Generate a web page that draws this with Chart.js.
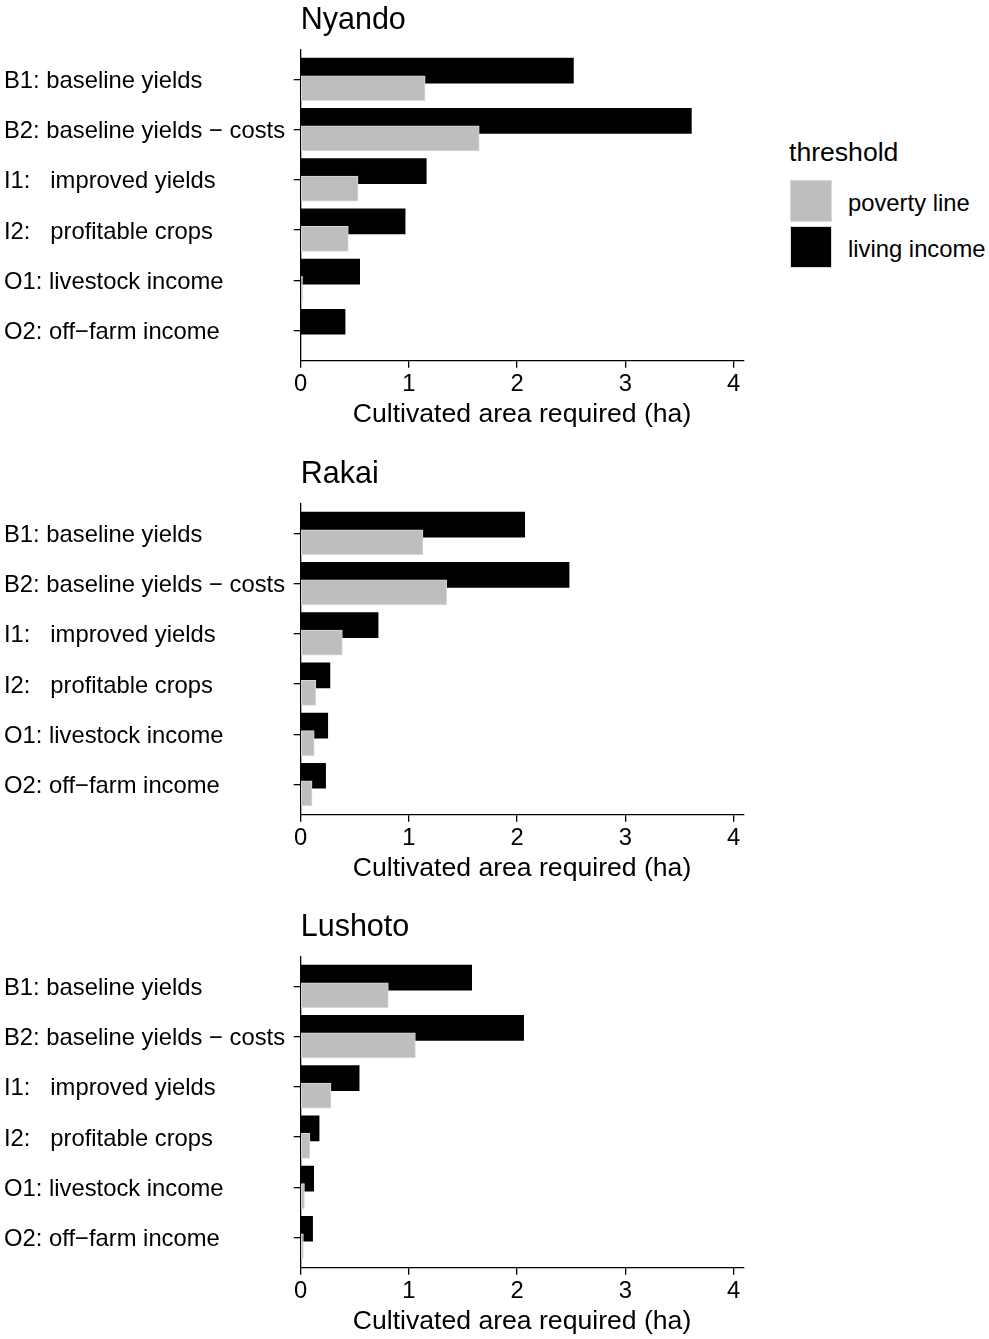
<!DOCTYPE html>
<html>
<head>
<meta charset="utf-8">
<script src="https://cdn.jsdelivr.net/npm/chart.js@4.4.1/dist/chart.umd.min.js"></script>
<style>
  body { margin: 0; background: #fff; font-family: "Liberation Sans", Arial, sans-serif; }
  #page { position: relative; width: 989px; height: 1339px; overflow: hidden; }
  canvas { position: absolute; left: 0; }
  .lg { position: absolute; color: #000; white-space: nowrap; line-height: 1; }
  .key { position: absolute; width: 42px; height: 42px; box-sizing: border-box; border: 1px solid #dadada; }
</style>
</head>
<body>
<div id="page">
  <canvas id="c0" width="760" height="454" style="top:0px"></canvas>
  <canvas id="c1" width="760" height="454" style="top:454px"></canvas>
  <canvas id="c2" width="760" height="454" style="top:907px"></canvas>

  <div class="lg" style="left:789px; top:139px; font-size:26.6px">threshold</div>
  <div class="key" style="left:790px; top:180px; background:#bebebe"></div>
  <div class="key" style="left:790px; top:226px; background:#000"></div>
  <div class="lg" style="left:848px; top:191px; font-size:23.8px">poverty line</div>
  <div class="lg" style="left:848px; top:237px; font-size:23.8px">living income</div>
</div>
<script>
const scenarios = [
  "B1: baseline yields",
  "B2: baseline yields \u2212 costs",
  "I1:   improved yields",
  "I2:   profitable crops",
  "O1: livestock income",
  "O2: off\u2212farm income"
];

const sites = ["Nyando", "Rakai", "Lushoto"];

// cultivated area required (ha), per scenario
const nyandoPoverty = [1.15, 1.65, 0.53, 0.44, 0.02, 0.0];
const nyandoLiving  = [2.52, 3.61, 1.16, 0.965, 0.545, 0.41];
const rakaiPoverty  = [1.13, 1.35, 0.385, 0.14, 0.125, 0.105];
const rakaiLiving   = [2.07, 2.48, 0.715, 0.27, 0.25, 0.23];
const lushotoPoverty = [0.81, 1.06, 0.28, 0.085, 0.035, 0.025];
const lushotoLiving  = [1.58, 2.06, 0.54, 0.17, 0.12, 0.11];

const xTicks = [0, 1, 2, 3, 4];

const povertyBySite = [nyandoPoverty, rakaiPoverty, lushotoPoverty];
const livingBySite = [nyandoLiving, rakaiLiving, lushotoLiving];

const FONT = '"Liberation Sans", Arial, sans-serif';
const DODGE = 0.175;

Chart.defaults.font.family = FONT;
Chart.defaults.color = '#000';

const panelTitle = {
  id: 'panelTitle',
  afterDraw(chart, args, opts) {
    const { ctx, chartArea } = chart;
    ctx.save();
    ctx.font = '30.5px ' + FONT;
    ctx.fillStyle = '#000';
    ctx.textAlign = 'left';
    ctx.textBaseline = 'alphabetic';
    ctx.fillText(opts.text, chartArea.left, chartArea.top - 20.8);
    ctx.restore();
  }
};

function makeChart(canvasId, site, poverty, living) {
  return new Chart(document.getElementById(canvasId), {
    type: 'bar',
    plugins: [panelTitle],
    data: {
      datasets: [
        {
          label: 'poverty line',
          data: poverty.map((v, i) => ({ x: v, y: i + DODGE })),
          backgroundColor: '#bebebe',
          borderColor: '#d9d9d9',
          borderWidth: 1,
          borderSkipped: false
        },
        {
          label: 'living income',
          data: living.map((v, i) => ({ x: v, y: i - DODGE })),
          backgroundColor: '#000',
          borderWidth: 0
        }
      ]
    },
    options: {
      indexAxis: 'y',
      responsive: false,
      animation: false,
      events: [],
      grouped: false,
      barThickness: 25,
      layout: { padding: { top: 49.3, left: 4, right: 16.7, bottom: 0 } },
      plugins: {
        legend: { display: false },
        tooltip: { enabled: false },
        panelTitle: { text: site }
      },
      scales: {
        x: {
          type: 'linear',
          min: 0,
          max: 4.09,
          afterFit: (s) => { s.height = 93.3; },
          afterBuildTicks: (s) => { s.ticks = xTicks.map(v => ({ value: v })); },
          ticks: {
            includeBounds: false,
            font: { size: 23.8 },
            padding: 2,
            color: '#000'
          },
          grid: { drawOnChartArea: false, drawTicks: true, tickLength: 7, color: '#000', lineWidth: 1.3 },
          border: { display: true, color: '#000', width: 1.3 },
          title: {
            display: true,
            text: 'Cultivated area required (ha)',
            font: { size: 26.6 },
            color: '#000',
            padding: { top: 0, bottom: 23 }
          }
        },
        y: {
          type: 'linear',
          reverse: true,
          offset: false,
          min: -0.6,
          max: scenarios.length - 0.4,
          afterFit: (s) => { s.width = 296.7; },
          afterBuildTicks: (s) => { s.ticks = scenarios.map((c, i) => ({ value: i })); },
          ticks: {
            autoSkip: false,
            crossAlign: 'far',
            labelOffset: 2,
            font: { size: 23.8 },
            color: '#000',
            callback: (v) => scenarios[v]
          },
          grid: { offset: false, drawOnChartArea: false, drawTicks: true, tickLength: 7, color: '#000', lineWidth: 1.3 },
          border: { display: true, color: '#000', width: 1.3 }
        }
      }
    }
  });
}

sites.forEach((site, k) => makeChart('c' + k, site, povertyBySite[k], livingBySite[k]));
</script>
</body>
</html>
